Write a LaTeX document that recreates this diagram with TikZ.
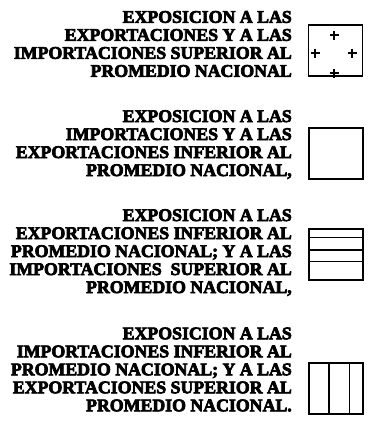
\documentclass[tikz,border=0pt]{standalone}
\usepackage{fontspec}
\setmainfont{Liberation Serif}[BoldFeatures={FakeBold=4}]
\usetikzlibrary{positioning, calc}

\begin{document}
\begin{tikzpicture}[
    x=1pt, y=-1pt,
    legtext/.style={anchor=east, align=right, inner sep=0pt, font=\fontsize{17.8}{18}\selectfont\bfseries},
    legbox/.style={draw, rectangle, line width=1.6pt, minimum width=54pt, minimum height=51pt, inner sep=0pt},
    fillline/.style={line width=1.6pt}
]
\useasboundingbox (0,0) rectangle (374,431);

% Nodes
\node[legtext] (txtboth) at (292, 44) {EXPOSICION A LAS\\EXPORTACIONES Y A LAS\\IMPORTACIONES SUPERIOR AL\\PROMEDIO NACIONAL};
\node[legbox] (boxboth) at (335.5, 50.5) {};

\node[legtext] (txtnone) at (292, 144.5) {EXPOSICION A LAS\\IMPORTACIONES Y A LAS\\EXPORTACIONES INFERIOR AL\\PROMEDIO NACIONAL,};
\node[legbox] (boxnone) at (336, 153.5) {};

\node[legtext] (txtimp) at (292, 252.5) {EXPOSICION A LAS\\EXPORTACIONES INFERIOR AL\\PROMEDIO NACIONAL; Y A LAS\\IMPORTACIONES\ \ SUPERIOR AL\\PROMEDIO NACIONAL,};
\node[legbox] (boximp) at (336, 254.5) {};

\node[legtext] (txtexp) at (292, 369.5) {EXPOSICION A LAS\\IMPORTACIONES INFERIOR AL\\PROMEDIO NACIONAL; Y A LAS\\EXPORTACIONES SUPERIOR AL\\PROMEDIO NACIONAL.};
\node[legbox] (boxexp) at (336, 388.5) {};

% Fills
\foreach \px/\py in {334/35, 315/53, 352/53, 334/73}
    \draw[line width=1.2pt] (\px-4.5,\py) -- (\px+4.5,\py) (\px,\py-4.5) -- (\px,\py+4.5);

\foreach \f in {0.18, 0.41, 0.63}
    \draw[fillline] ($(boximp.north west)!\f!(boximp.south west)$) -- ($(boximp.north east)!\f!(boximp.south east)$);

\foreach \f in {0.37, 0.74}
    \draw[fillline] ($(boxexp.north west)!\f!(boxexp.north east)$) -- ($(boxexp.south west)!\f!(boxexp.south east)$);
\end{tikzpicture}
\end{document}
